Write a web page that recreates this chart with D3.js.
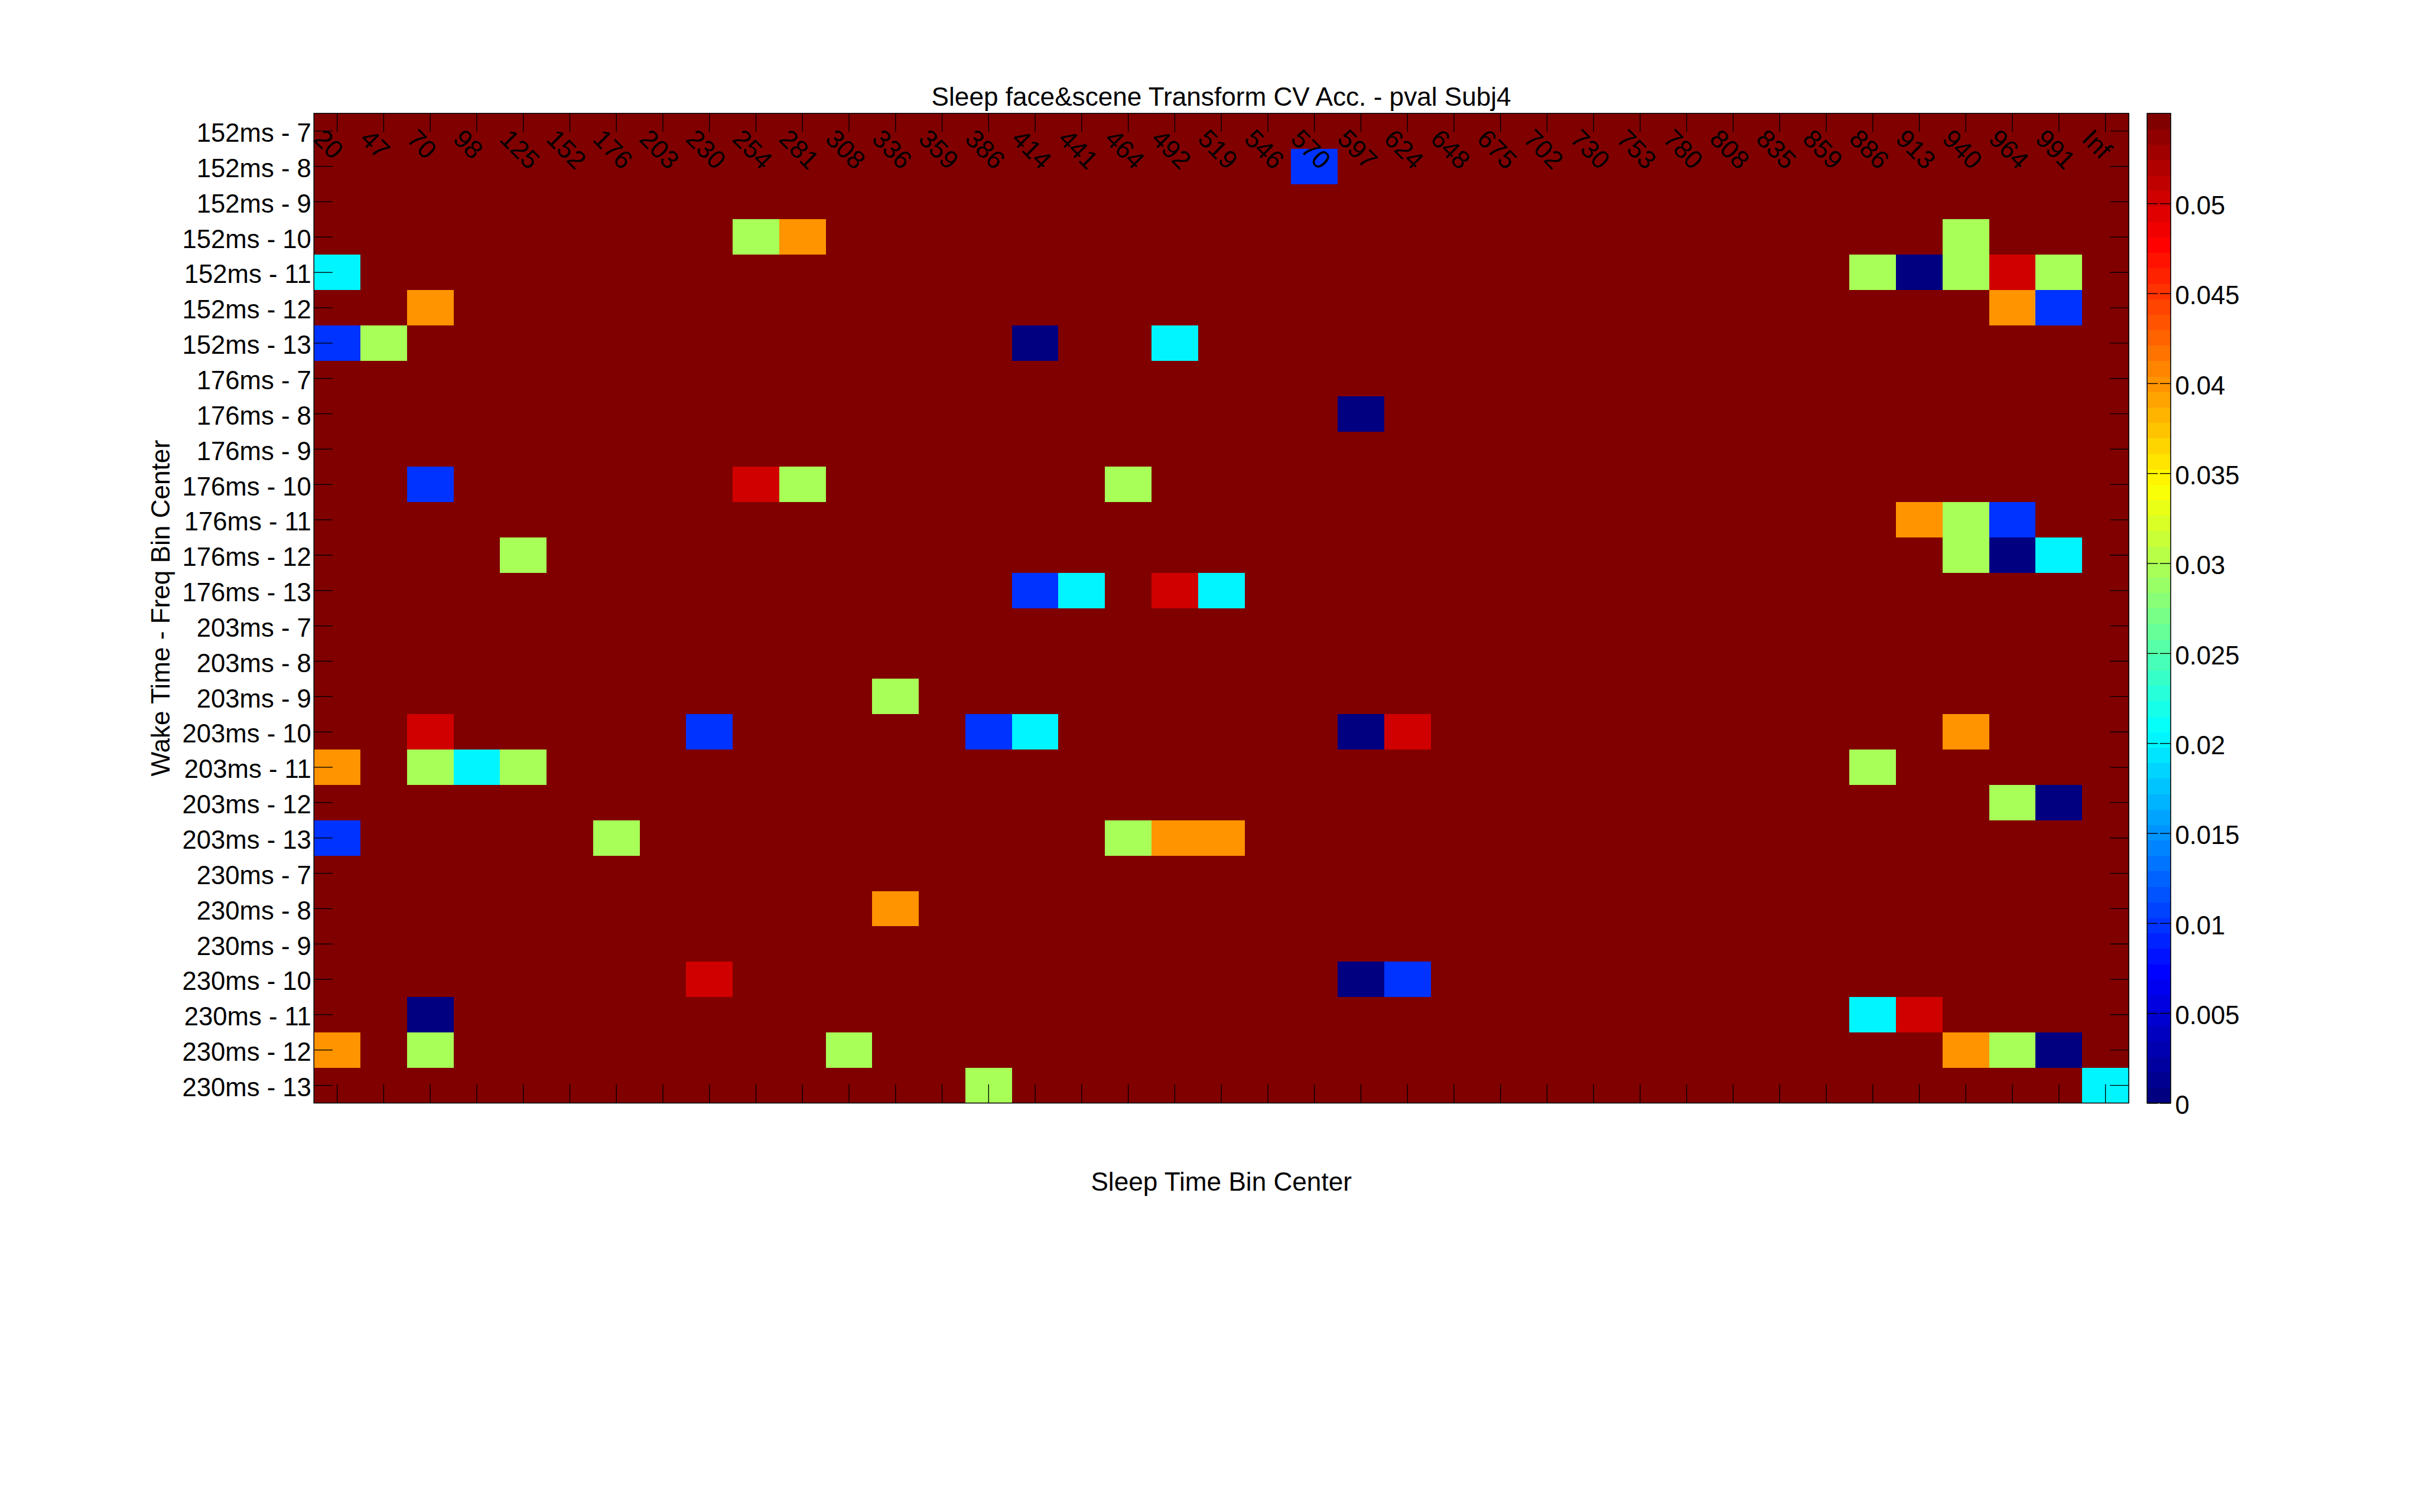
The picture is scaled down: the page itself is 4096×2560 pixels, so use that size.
<!DOCTYPE html>
<html><head><meta charset="utf-8">
<script src="https://cdn.jsdelivr.net/npm/d3@7"></script>
<style>
html,body{margin:0;padding:0;background:#fff;}
svg{display:block;}
text{font-family:"Liberation Sans", Arial, Helvetica, sans-serif;fill:#000;}
</style>
</head><body>
<svg id="chart" width="4096" height="2560"></svg>
<script>
// ---------------- data ----------------
const titleText = "Sleep face&scene Transform CV Acc. - pval Subj4";
const xLabelText = "Sleep Time Bin Center";
const yLabelText = "Wake Time - Freq Bin Center";

const colLabels = ["20","47","70","98","125","152","176","203","230","254","281","308","336","359","386","414","441","464","492","519","546","570","597","624","648","675","702","730","753","780","808","835","859","886","913","940","964","991","Inf"];
const wakeTimes = ["152ms","176ms","203ms","230ms"];
const freqBins = ["7","8","9","10","11","12","13"];

// p-values, one row per frequency bin (7..13), 39 sleep-time bins per row
const pval152 = [
  [.055,.055,.055,.055,.055,.055,.055,.055,.055,.055, .055,.055,.055,.055,.055,.055,.055,.055,.055,.055, .055,.055,.055,.055,.055,.055,.055,.055,.055,.055, .055,.055,.055,.055,.055,.055,.055,.055,.055],
  [.055,.055,.055,.055,.055,.055,.055,.055,.055,.055, .055,.055,.055,.055,.055,.055,.055,.055,.055,.055, .055,.01,.055,.055,.055,.055,.055,.055,.055,.055, .055,.055,.055,.055,.055,.055,.055,.055,.055],
  [.055,.055,.055,.055,.055,.055,.055,.055,.055,.055, .055,.055,.055,.055,.055,.055,.055,.055,.055,.055, .055,.055,.055,.055,.055,.055,.055,.055,.055,.055, .055,.055,.055,.055,.055,.055,.055,.055,.055],
  [.055,.055,.055,.055,.055,.055,.055,.055,.055,.03, .04,.055,.055,.055,.055,.055,.055,.055,.055,.055, .055,.055,.055,.055,.055,.055,.055,.055,.055,.055, .055,.055,.055,.055,.055,.03,.055,.055,.055],
  [.02,.055,.055,.055,.055,.055,.055,.055,.055,.055, .055,.055,.055,.055,.055,.055,.055,.055,.055,.055, .055,.055,.055,.055,.055,.055,.055,.055,.055,.055, .055,.055,.055,.03,0,.03,.05,.03,.055],
  [.055,.055,.04,.055,.055,.055,.055,.055,.055,.055, .055,.055,.055,.055,.055,.055,.055,.055,.055,.055, .055,.055,.055,.055,.055,.055,.055,.055,.055,.055, .055,.055,.055,.055,.055,.055,.04,.01,.055],
  [.01,.03,.055,.055,.055,.055,.055,.055,.055,.055, .055,.055,.055,.055,.055,0,.055,.055,.02,.055, .055,.055,.055,.055,.055,.055,.055,.055,.055,.055, .055,.055,.055,.055,.055,.055,.055,.055,.055]
];
const pval176 = [
  [.055,.055,.055,.055,.055,.055,.055,.055,.055,.055, .055,.055,.055,.055,.055,.055,.055,.055,.055,.055, .055,.055,.055,.055,.055,.055,.055,.055,.055,.055, .055,.055,.055,.055,.055,.055,.055,.055,.055],
  [.055,.055,.055,.055,.055,.055,.055,.055,.055,.055, .055,.055,.055,.055,.055,.055,.055,.055,.055,.055, .055,.055,0,.055,.055,.055,.055,.055,.055,.055, .055,.055,.055,.055,.055,.055,.055,.055,.055],
  [.055,.055,.055,.055,.055,.055,.055,.055,.055,.055, .055,.055,.055,.055,.055,.055,.055,.055,.055,.055, .055,.055,.055,.055,.055,.055,.055,.055,.055,.055, .055,.055,.055,.055,.055,.055,.055,.055,.055],
  [.055,.055,.01,.055,.055,.055,.055,.055,.055,.05, .03,.055,.055,.055,.055,.055,.055,.03,.055,.055, .055,.055,.055,.055,.055,.055,.055,.055,.055,.055, .055,.055,.055,.055,.055,.055,.055,.055,.055],
  [.055,.055,.055,.055,.055,.055,.055,.055,.055,.055, .055,.055,.055,.055,.055,.055,.055,.055,.055,.055, .055,.055,.055,.055,.055,.055,.055,.055,.055,.055, .055,.055,.055,.055,.04,.03,.01,.055,.055],
  [.055,.055,.055,.055,.03,.055,.055,.055,.055,.055, .055,.055,.055,.055,.055,.055,.055,.055,.055,.055, .055,.055,.055,.055,.055,.055,.055,.055,.055,.055, .055,.055,.055,.055,.055,.03,0,.02,.055],
  [.055,.055,.055,.055,.055,.055,.055,.055,.055,.055, .055,.055,.055,.055,.055,.01,.02,.055,.05,.02, .055,.055,.055,.055,.055,.055,.055,.055,.055,.055, .055,.055,.055,.055,.055,.055,.055,.055,.055]
];
const pval203 = [
  [.055,.055,.055,.055,.055,.055,.055,.055,.055,.055, .055,.055,.055,.055,.055,.055,.055,.055,.055,.055, .055,.055,.055,.055,.055,.055,.055,.055,.055,.055, .055,.055,.055,.055,.055,.055,.055,.055,.055],
  [.055,.055,.055,.055,.055,.055,.055,.055,.055,.055, .055,.055,.055,.055,.055,.055,.055,.055,.055,.055, .055,.055,.055,.055,.055,.055,.055,.055,.055,.055, .055,.055,.055,.055,.055,.055,.055,.055,.055],
  [.055,.055,.055,.055,.055,.055,.055,.055,.055,.055, .055,.055,.03,.055,.055,.055,.055,.055,.055,.055, .055,.055,.055,.055,.055,.055,.055,.055,.055,.055, .055,.055,.055,.055,.055,.055,.055,.055,.055],
  [.055,.055,.05,.055,.055,.055,.055,.055,.01,.055, .055,.055,.055,.055,.01,.02,.055,.055,.055,.055, .055,.055,0,.05,.055,.055,.055,.055,.055,.055, .055,.055,.055,.055,.055,.04,.055,.055,.055],
  [.04,.055,.03,.02,.03,.055,.055,.055,.055,.055, .055,.055,.055,.055,.055,.055,.055,.055,.055,.055, .055,.055,.055,.055,.055,.055,.055,.055,.055,.055, .055,.055,.055,.03,.055,.055,.055,.055,.055],
  [.055,.055,.055,.055,.055,.055,.055,.055,.055,.055, .055,.055,.055,.055,.055,.055,.055,.055,.055,.055, .055,.055,.055,.055,.055,.055,.055,.055,.055,.055, .055,.055,.055,.055,.055,.055,.03,0,.055],
  [.01,.055,.055,.055,.055,.055,.03,.055,.055,.055, .055,.055,.055,.055,.055,.055,.055,.03,.04,.04, .055,.055,.055,.055,.055,.055,.055,.055,.055,.055, .055,.055,.055,.055,.055,.055,.055,.055,.055]
];
const pval230 = [
  [.055,.055,.055,.055,.055,.055,.055,.055,.055,.055, .055,.055,.055,.055,.055,.055,.055,.055,.055,.055, .055,.055,.055,.055,.055,.055,.055,.055,.055,.055, .055,.055,.055,.055,.055,.055,.055,.055,.055],
  [.055,.055,.055,.055,.055,.055,.055,.055,.055,.055, .055,.055,.04,.055,.055,.055,.055,.055,.055,.055, .055,.055,.055,.055,.055,.055,.055,.055,.055,.055, .055,.055,.055,.055,.055,.055,.055,.055,.055],
  [.055,.055,.055,.055,.055,.055,.055,.055,.055,.055, .055,.055,.055,.055,.055,.055,.055,.055,.055,.055, .055,.055,.055,.055,.055,.055,.055,.055,.055,.055, .055,.055,.055,.055,.055,.055,.055,.055,.055],
  [.055,.055,.055,.055,.055,.055,.055,.055,.05,.055, .055,.055,.055,.055,.055,.055,.055,.055,.055,.055, .055,.055,0,.01,.055,.055,.055,.055,.055,.055, .055,.055,.055,.055,.055,.055,.055,.055,.055],
  [.055,.055,0,.055,.055,.055,.055,.055,.055,.055, .055,.055,.055,.055,.055,.055,.055,.055,.055,.055, .055,.055,.055,.055,.055,.055,.055,.055,.055,.055, .055,.055,.055,.02,.05,.055,.055,.055,.055],
  [.04,.055,.03,.055,.055,.055,.055,.055,.055,.055, .055,.03,.055,.055,.055,.055,.055,.055,.055,.055, .055,.055,.055,.055,.055,.055,.055,.055,.055,.055, .055,.055,.055,.055,.055,.04,.03,0,.055],
  [.055,.055,.055,.055,.055,.055,.055,.055,.055,.055, .055,.055,.055,.055,.03,.055,.055,.055,.055,.055, .055,.055,.055,.055,.055,.055,.055,.055,.055,.055, .055,.055,.055,.055,.055,.055,.055,.055,.02]
];

const cMin = 0, cMax = 0.055;
const cbarTicks = [0,0.005,0.01,0.015,0.02,0.025,0.03,0.035,0.04,0.045,0.05];
const cbarTickLabels = ["0","0.005","0.01","0.015","0.02","0.025","0.03","0.035","0.04","0.045","0.05"];

// ---------------- build ----------------
const pvalByWake = [pval152, pval176, pval203, pval230];
const rowLabels = [];
const cells = [];
wakeTimes.forEach((w, wi) => {
  freqBins.forEach((f, fi) => {
    const lab = w + " - " + f;
    rowLabels.push(lab);
    pvalByWake[wi][fi].forEach((v, ci) => cells.push({row: lab, col: colLabels[ci], v}));
  });
});

const S = 4096 / 4268;
const FS = 45.5;
const L = 553.6, R = 3754.3, T = 200, B = 1946;
const cbL = 3786.7, cbR = 3828.3;

const svg = d3.select("#chart");
svg.append("rect").attr("width", 4096).attr("height", 2560).attr("fill", "#fff");
const g = svg.append("g").attr("transform", `scale(${S})`);

// octave-style jet colormap, 64 levels
function jet(x) {
  const c = v => Math.max(0, Math.min(1, v));
  return d3.rgb(255 * c(Math.min(4*x - 1.5, -4*x + 4.5)),
                255 * c(Math.min(4*x - 0.5, -4*x + 3.5)),
                255 * c(Math.min(4*x + 0.5, -4*x + 2.5))).formatHex();
}
const cmap = d3.range(64).map(i => jet(i / 63));
const color = d3.scaleQuantize().domain([cMin, cMax]).range(cmap);

const x = d3.scaleBand().domain(colLabels).range([L, R]).padding(0);
const y = d3.scaleBand().domain(rowLabels).range([T, B]).padding(0);

g.append("g").selectAll("rect").data(cells).join("rect")
  .attr("x", d => x(d.col)).attr("y", d => y(d.row))
  .attr("width", x.bandwidth() + 0.6).attr("height", y.bandwidth() + 0.6)
  .attr("fill", d => color(Math.min(d.v, cMax)))
  .attr("shape-rendering", "crispEdges");

function styleAxis(sel) {
  sel.attr("font-family", null).attr("font-size", null);
  sel.select(".domain").remove();
  sel.selectAll(".tick line").attr("stroke", "#000").attr("stroke-width", 1.4);
  sel.selectAll("text").attr("font-size", FS).attr("fill", "#000");
}

// left axis (row labels)
const gl = g.append("g").attr("transform", `translate(${L},0)`)
  .call(d3.axisLeft(y).tickSize(-33).tickSizeOuter(0).tickPadding(4.6));
styleAxis(gl);
gl.selectAll("text").attr("dy", null).attr("y", 19);

// right axis ticks
const gr = g.append("g").attr("transform", `translate(${R},0)`)
  .call(d3.axisRight(y).tickSize(-33).tickSizeOuter(0).tickFormat(""));
styleAxis(gr);

// bottom ticks
const gb = g.append("g").attr("transform", `translate(0,${B})`)
  .call(d3.axisBottom(x).tickSize(-33).tickSizeOuter(0).tickFormat(""));
styleAxis(gb);

// top ticks with rotated labels inside the plot
const gt = g.append("g").attr("transform", `translate(0,${T})`)
  .call(d3.axisTop(x).tickSize(-33).tickSizeOuter(0));
styleAxis(gt);
gt.selectAll("text")
  .attr("x", 0).attr("y", 0).attr("dy", null)
  .attr("text-anchor", "start")
  .attr("transform", "translate(-44,47.6) rotate(45)");

// plot border
g.append("rect").attr("x", L).attr("y", T).attr("width", R - L).attr("height", B - T)
  .attr("fill", "none").attr("stroke", "#000").attr("stroke-width", 1.6);

// colorbar
const cy = d3.scaleLinear().domain([cMin, cMax]).range([B, T]);
const step = (cMax - cMin) / 64;
g.append("g").selectAll("rect").data(cmap).join("rect")
  .attr("x", cbL).attr("width", cbR - cbL)
  .attr("y", (d, i) => cy(cMin + (i + 1) * step))
  .attr("height", (d, i) => cy(cMin + i * step) - cy(cMin + (i + 1) * step) + 0.6)
  .attr("fill", d => d)
  .attr("shape-rendering", "crispEdges");

const gcl = g.append("g").attr("transform", `translate(${cbL},0)`)
  .call(d3.axisLeft(cy).tickValues(cbarTicks).tickSize(-19).tickSizeOuter(0).tickFormat(""));
styleAxis(gcl);
const gcr = g.append("g").attr("transform", `translate(${cbR},0)`)
  .call(d3.axisRight(cy).tickValues(cbarTicks).tickSize(-19).tickSizeOuter(0).tickPadding(7.7)
    .tickFormat((d, i) => cbarTickLabels[i]));
styleAxis(gcr);
gcr.selectAll("text").attr("dy", null).attr("y", 19);

g.append("rect").attr("x", cbL).attr("y", T).attr("width", cbR - cbL).attr("height", B - T)
  .attr("fill", "none").attr("stroke", "#000").attr("stroke-width", 1.6);

// titles
const cx = (L + R) / 2;
g.append("text").attr("x", cx).attr("y", 187).attr("text-anchor", "middle")
  .attr("font-size", 46).text(titleText);
g.append("text").attr("x", cx).attr("y", 2101).attr("text-anchor", "middle")
  .attr("font-size", 46).text(xLabelText);
g.append("text").attr("transform", `translate(299,${(T + B) / 2}) rotate(-90)`)
  .attr("text-anchor", "middle").attr("font-size", 46).text(yLabelText);
</script>
</body></html>
